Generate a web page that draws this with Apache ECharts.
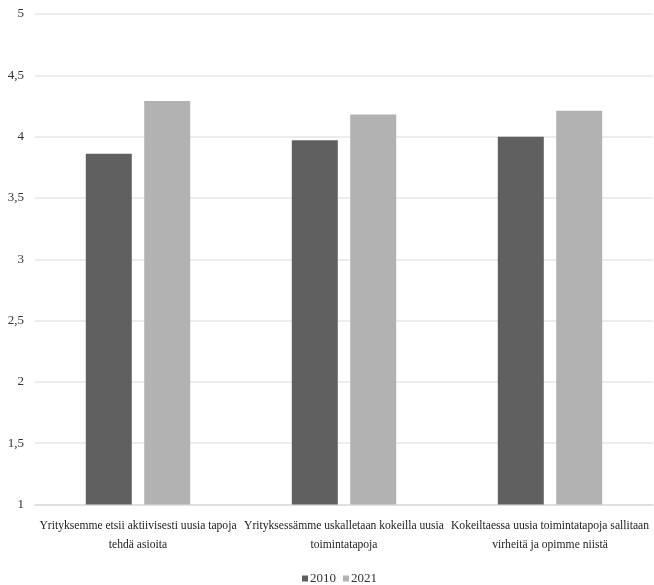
<!DOCTYPE html>
<html>
<head>
<meta charset="utf-8">
<script src="https://cdn.jsdelivr.net/npm/echarts@6/dist/echarts.min.js"></script>
<style>
  html, body { margin: 0; padding: 0; background: #fff; overflow: hidden; }
  #chart { width: 654px; height: 585px; }
</style>
</head>
<body>
<div id="chart"></div>
<script>
// Survey statements (category axis)
const categories = [
  'Yrityksemme etsii aktiivisesti uusia tapoja\ntehdä asioita',
  'Yrityksessämme uskalletaan kokeilla uusia\ntoimintatapoja',
  'Kokeiltaessa uusia toimintatapoja sallitaan\nvirheitä ja opimme niistä'
];
// Mean scores per survey year
const values2010 = [3.86, 3.97, 4.00];
const values2021 = [4.29, 4.18, 4.21];
const seriesNames = ['2010', '2021'];

const FONT = '"Liberation Serif", "DejaVu Serif", serif';

const chart = echarts.init(document.getElementById('chart'));
chart.setOption({
  animation: false,
  backgroundColor: '#ffffff',
  textStyle: { fontFamily: FONT },
  legend: {
    data: seriesNames,
    top: 567,
    left: 297,
    itemWidth: 6,
    itemHeight: 6,
    itemGap: 7,
    icon: 'rect',
    textStyle: { fontFamily: FONT, fontSize: 13, color: '#333', padding: [0, 0, 0, -3] }
  },
  grid: { left: 35, right: 1, top: 14, bottom: 80.5, containLabel: false },
  xAxis: {
    type: 'category',
    data: categories,
    axisLine: { show: true, lineStyle: { color: '#dcdcdc', width: 1.5 } },
    axisTick: { show: false },
    axisLabel: {
      interval: 0,
      margin: 12,
      fontFamily: FONT,
      fontSize: 11.6,
      lineHeight: 19,
      color: '#222'
    }
  },
  yAxis: {
    type: 'value',
    min: 1,
    max: 5,
    interval: 0.5,
    axisLine: { show: false },
    axisTick: { show: false },
    splitLine: { lineStyle: { color: '#e6e6e6', width: 1.5 } },
    axisLabel: {
      margin: 11,
      fontFamily: FONT,
      fontSize: 13,
      color: '#333',
      formatter: v => String(v).replace('.', ',')
    }
  },
  series: [
    {
      name: seriesNames[0],
      type: 'bar',
      data: values2010,
      barWidth: 46,
      barGap: '27%',
      itemStyle: { color: '#606060' }
    },
    {
      name: seriesNames[1],
      type: 'bar',
      data: values2021,
      barWidth: 46,
      itemStyle: { color: '#b2b2b2' }
    }
  ]
});
</script>
</body>
</html>
